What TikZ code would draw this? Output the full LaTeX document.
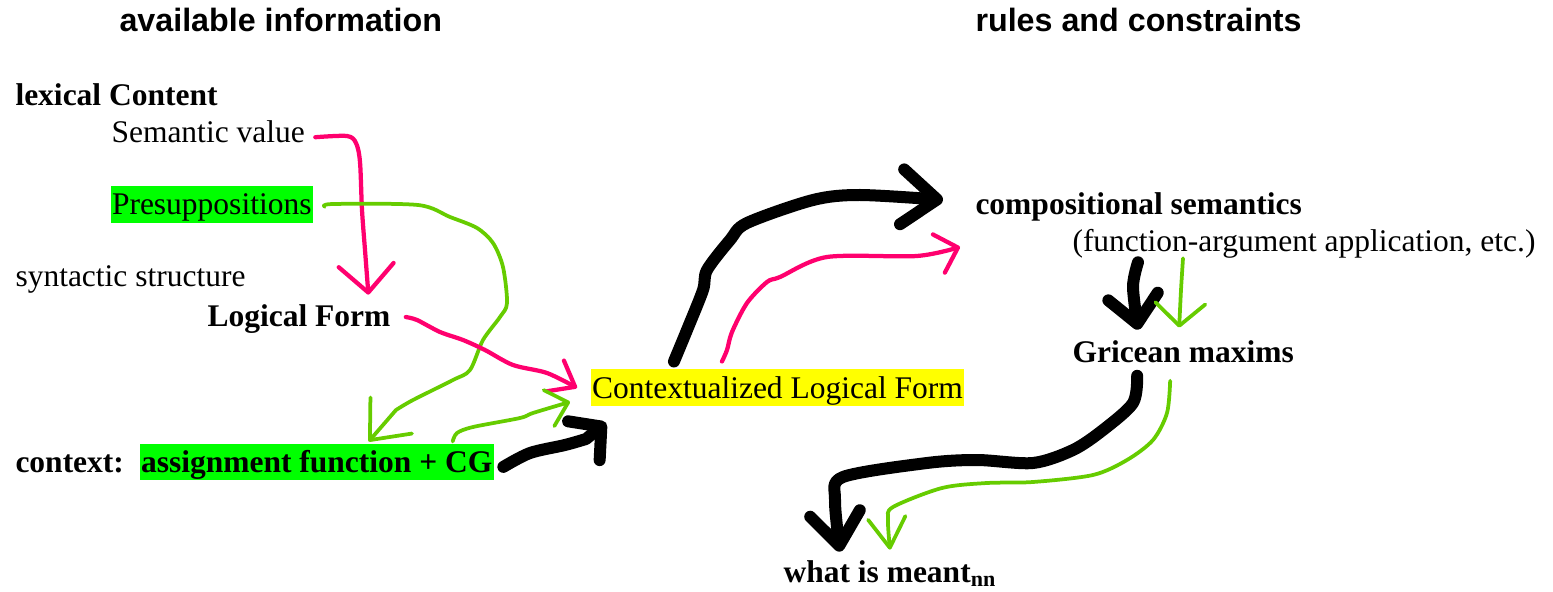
\documentclass[tikz,border=0pt]{standalone}
\usepackage{fontspec}
\setmainfont{Liberation Serif}
\newfontfamily\headfont{Liberation Sans}
\usetikzlibrary{arrows.meta}
\usetikzlibrary{positioning}

\definecolor{hotpink}{HTML}{FF006E}
\definecolor{limeline}{HTML}{66CC00}
\definecolor{hlgreen}{HTML}{00FF00}
\definecolor{hlyellow}{HTML}{FFFF00}
\newcommand{\bodysize}{\fontsize{12.6pt}{15pt}\selectfont}

\begin{document}
\begin{tikzpicture}[x=0.4pt, y=-0.4pt,
    txt/.style={anchor=base west, inner sep=0pt, font=\bodysize},
    bold/.style={txt, font=\bodysize\bfseries},
    head/.style={txt, font=\headfont\bfseries\fontsize{12.9pt}{15pt}\selectfont},
    hl/.style={anchor=base west, inner xsep=0.6pt, inner ysep=0pt, text height=11.4pt, text depth=3.3pt, fill=#1, font=\bodysize},
    pinkline/.style={draw=hotpink, line width=1.7pt, line cap=round, line join=round},
    greenline/.style={draw=limeline, line width=1.5pt, line cap=round, line join=round},
    blackline/.style={draw=black, line width=4.8pt, line cap=round, line join=round}]
    \useasboundingbox (0,0) rectangle (1553,592);

    \node[head] (avail) at (119,32) {available information};
    \node[head] (rules) at (975,32) {rules and constraints};

    \node[bold] (lex) at (15,106) {lexical Content};
    \node[txt] (semval) at (111,143) {Semantic value};
    \node[hl=hlgreen] (presup) at (110,215) {Presuppositions};
    \node[txt] (syn) at (15,287) {syntactic structure};
    \node[bold] (lf) at (207,327) {Logical Form};
    \node[hl=hlyellow] (clf) at (590,398) {Contextualized Logical Form};
    \node[bold] (ctx) at (15,472) {context:};
    \node[hl=hlgreen, font=\bodysize\bfseries] (assign) at (139,472) {assignment function + CG};

    \node[bold] (compsem) at (975,215) {compositional semantics};
    \node[txt] (funcarg) at (1072,252) {(function-argument application, etc.)};
    \node[bold] (gricean) at (1072,362) {Gricean maxims};
    \node[bold] (meant) at (783,582) {what is meant\textsubscript{nn}};

    % left side
    \draw[pinkline, -{Straight Barb[round, length=11pt, width=22pt]}] plot[smooth] coordinates
        {([xshift=4pt, yshift=-2pt]semval.east) (347,136) (356,143) (360,162) (362,210) (365,250) ([xshift=27.8pt, yshift=4pt]lf.north)};
    \draw[greenline, -{Straight Barb[round, length=13pt, width=22pt]}] plot[smooth] coordinates
        {([xshift=4.4pt, yshift=-0.8pt]presup.east) (333,204) (418,205) (450,217) (477,228) (493,243) (503,267) (507,303) (500,317) (483,340) (470,370) (453,380) (413,400) (396,410)}
        -- ([xshift=20.8pt, yshift=0.6pt]assign.north);
    \draw[pinkline, -{Straight Barb[round, length=9pt, width=14pt]}] plot[smooth] coordinates
        {([xshift=6pt, yshift=1pt]lf.east) (417,320) (440,332) (463,340) (485,350) (513,365) (547,373) ([xshift=-5.2pt]clf.west)};
    \draw[greenline, -{Straight Barb[round, length=8pt, width=15pt]}] plot[smooth] coordinates
        {([xshift=54.4pt, yshift=0.6pt]assign.north) (457,433) (473,427) (520,418) (533,413) ([xshift=-8pt, yshift=-5.6pt]clf.west)};
    \draw[blackline, -{Straight Barb[round, length=9pt, width=20pt]}] plot[smooth] coordinates
        {([xshift=3.6pt, yshift=-2pt]assign.east) (530,453) (565,445) (586,439)}
        -- ([xshift=6.4pt, yshift=-6.4pt]clf.south west);

    % up to the rules
    \draw[blackline, -{Straight Barb[round, length=14pt, width=22pt]}] plot[smooth] coordinates
        {([xshift=-41.4pt, yshift=3pt]clf.north) (687,330) (703,290) (707,270) (730,240) (747,223) (813,200) (860,195) ([xshift=-12.8pt, yshift=3pt]compsem.west)};
    \draw[pinkline, -{Straight Barb[round, length=8pt, width=16pt]}] plot[smooth] coordinates
        {([xshift=-22.2pt, yshift=3pt]clf.north) (727,350) (732,332) (747,303) (767,282) (780,277) (827,257) (917,256) ([xshift=-6pt, yshift=-15.8pt]compsem.west)};

    % right side
    \draw[blackline, -{Straight Barb[round, length=11pt, width=20pt]}] plot[smooth] coordinates
        {([xshift=26.4pt, yshift=-1.2pt]funcarg.south west) (1133,287) ([xshift=-18pt, yshift=4pt]gricean.north)};
    \draw[greenline, -{Straight Barb[round, length=9pt, width=20pt]}] plot[smooth] coordinates
        {([xshift=44.4pt, yshift=0.4pt]funcarg.south west) (1181,290) ([xshift=-1.6pt, yshift=4.8pt]gricean.north)};
    \draw[blackline, -{Straight Barb[round, length=13pt, width=20pt]}] plot[smooth] coordinates
        {([xshift=-18.4pt, yshift=-5.2pt]gricean.south) (1133,403) (1103,430) (1073,450) (1033,463) (977,460) (927,463) (843,477) (835,500) ([xshift=-20pt, yshift=3.2pt]meant.north)};
    \draw[greenline, -{Straight Barb[round, length=12pt, width=15pt]}] plot[smooth] coordinates
        {([xshift=-5.2pt, yshift=-7.2pt]gricean.south) (1167,413) (1153,440) (1127,460) (1093,475) (1033,482) (987,483) (942,488) (893,507) (888,520) ([yshift=4pt]meant.north)};
\end{tikzpicture}
\end{document}
